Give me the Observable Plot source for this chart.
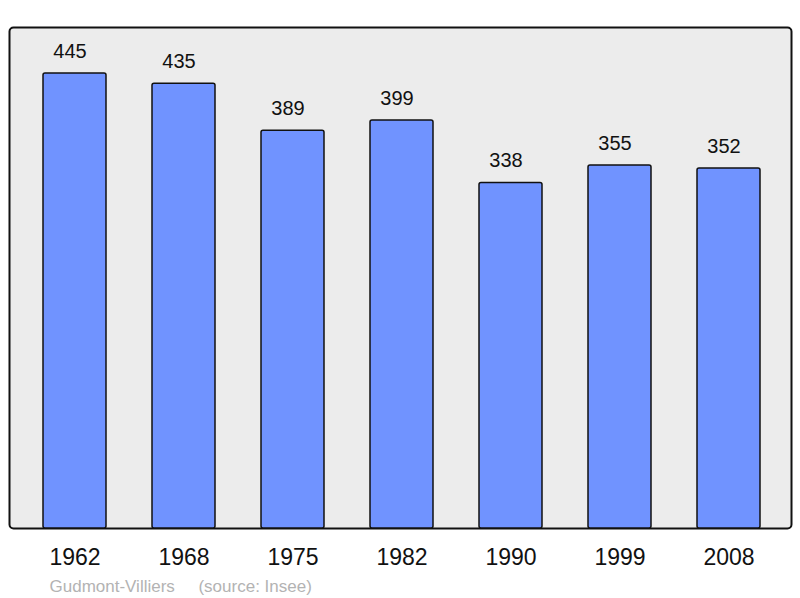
<!DOCTYPE html>
<html>
<head>
<meta charset="utf-8">
<script src="https://cdn.jsdelivr.net/npm/d3@7"></script>
<script src="https://cdn.jsdelivr.net/npm/@observablehq/plot@0.6"></script>
<style>
  html, body { margin: 0; padding: 0; background: #fff; }
</style>
</head>
<body>
<div id="chart"></div>
<script>
const years = ["1962", "1968", "1975", "1982", "1990", "1999", "2008"];
const population = [445, 435, 389, 399, 338, 355, 352];
const commune = "Gudmont-Villiers";
const source = "(source: Insee)";

const data = years.map((y, i) => ({year: y, value: population[i]}));
const caption = [commune + "\u00a0\u00a0\u00a0\u00a0\u00a0" + source];

const chart = Plot.plot({
  width: 800,
  height: 598,
  marginLeft: 9,
  marginRight: 9,
  marginTop: 27,
  marginBottom: 70,
  style: {fontFamily: "'Liberation Sans', Arial, sans-serif", background: "#fff"},
  x: {domain: years, range: [42, 761.5], paddingInner: 0.424, paddingOuter: 0, axis: null},
  y: {domain: [0, 490], axis: null},
  marks: [
    Plot.frame({fill: "#ececec", stroke: "#111", strokeWidth: 2, rx: 4}),
    Plot.barY(data, {x: "year", y: "value", fill: "#7093ff", stroke: "#111", strokeWidth: 1.5, rx: 2}),
    Plot.text(data, {x: "year", y: "value", text: d => String(d.value), dx: -5, dy: -22, fontSize: 20, fill: "#111"}),
    Plot.text(data, {x: "year", text: "year", frameAnchor: "bottom", dy: 36, fontSize: 23, fill: "#111"}),
    Plot.text(caption, {text: d => d, frameAnchor: "bottom-left", dx: 40, dy: 63, textAnchor: "start", fontSize: 17, fill: "#b3b3b3"})
  ]
});
document.getElementById("chart").appendChild(chart);
</script>
</body>
</html>
